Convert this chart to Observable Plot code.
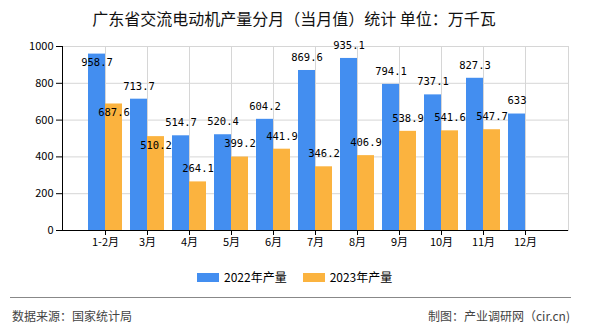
<!DOCTYPE html>
<html><head><meta charset="utf-8">
<script src="https://cdn.jsdelivr.net/npm/d3@7"></script>
<script src="https://cdn.jsdelivr.net/npm/@observablehq/plot@0.6"></script>
<style>
body{margin:0;background:#fff;font-family:"Noto Sans CJK SC","Noto Sans",sans-serif;}
#wrap{position:relative;width:590px;height:330px;overflow:hidden;background:#fff;}
#title{position:absolute;left:0;width:588px;top:8px;text-align:center;font-size:16px;line-height:20px;color:#111;letter-spacing:0;white-space:nowrap;}
#chart{position:absolute;left:0;top:37px;}
#legend{position:absolute;left:197px;top:270px;display:flex;align-items:center;font-size:12px;line-height:14px;color:#000;}
#legend .sw{width:22px;height:9px;margin-right:5px;}
#legend .item{display:flex;align-items:center;margin-right:16px;}
#sep{position:absolute;left:10px;top:297px;width:561px;height:1px;background:#888;}
#src{position:absolute;left:12px;top:308px;font-size:12px;line-height:16px;color:#444;}
#by{position:absolute;right:20px;top:308px;font-size:12px;line-height:16px;color:#444;}
</style></head>
<body>
<div id="wrap">
  <div id="title">广东省交流电动机产量分月（当月值）统计 单位：万千瓦</div>
  <div id="chart"></div>
  <div id="legend"></div>
  <div id="sep"></div>
  <div id="src">数据来源：国家统计局</div>
  <div id="by">制图：产业调研网（cir.cn)</div>
</div>
<script>
const months = ["1-2月","3月","4月","5月","6月","7月","8月","9月","10月","11月","12月"];
const v2022 = [958.7,713.7,514.7,520.4,604.2,869.6,935.1,794.1,737.1,827.3,633];
const v2023 = [687.6,510.2,264.1,399.2,441.9,346.2,406.9,538.9,541.6,547.7,null];
const seriesNames = ["2022年产量","2023年产量"];
const seriesColors = ["#438ef0","#fbb33f"];
const yTicks = [0,200,400,600,800,1000];

const rows = [];
months.forEach((m,i)=>{
  rows.push({month:m, s:0, value:v2022[i]});
  if (v2023[i] != null) rows.push({month:m, s:1, value:v2023[i]});
});

const W = 590, H = 219;
const base = {
  width: W, height: H,
  marginTop: 9, marginBottom: 26, marginLeft: 62, marginRight: 22,
  style: {fontFamily: '"Noto Sans CJK SC","Noto Sans",sans-serif', fontSize: "11px", color: "#000", background: "transparent"},
  x: {domain: months, paddingInner: 0.2, paddingOuter: 0.6, label: null, tickSize: 5, tickPadding: 3},
  y: {domain: [0,1000], ticks: yTicks, tickFormat: d => String(d), label: null, tickSize: 6, tickPadding: 3}
};
const probe = Plot.plot({...base, marks: [Plot.barY(rows, {x: "month", y: "value"})]});
const xs = probe.scale("x"), ys = probe.scale("y");
const bw = xs.bandwidth;
const bandX = d3.scaleBand(xs.domain, xs.range).paddingInner(0.2).paddingOuter(0.6);
const linY = d3.scaleLinear(ys.domain, ys.range);

// label placement: above bar, unless clipped or overlapping a neighbour label
const charW = 6.3, halfH = 5, above = -13, inside = 9;
const labels = rows.map(r => {
  const t = String(r.value);
  const cx = bandX(r.month) + bw/2 + (r.s === 0 ? -bw/4 : bw/4);
  const top = linY(r.value);
  return {r, t, cx, top, w: t.length*charW, pos: "above"};
});
labels.forEach(L => { if (L.top + above - halfH < 0) L.pos = "inside"; });
const cy = L => L.top + (L.pos === "above" ? above : inside);
labels.filter(L => L.r.s === 1).forEach(O => {
  labels.filter(L => L.r.s === 0).forEach(B => {
    if (Math.abs(O.cx - B.cx) < (O.w + B.w)/2 && Math.abs(cy(O) - cy(B)) < 2*halfH) O.pos = "inside";
  });
});
const posOf = new Map(labels.map(L => [L.r, L.pos]));

const hasNew = typeof Plot.axisY === "function";
const grid = "#d6d6d6";
const textOpts = (s, pos) => ({
  filter: d => d.s === s && posOf.get(d) === pos,
  x: "month", y: "value", text: d => String(d.value),
  dx: s === 0 ? -bw/4 : bw/4, dy: pos === "above" ? above : inside,
  fontFamily: '"DejaVu Sans Mono",monospace', fontSize: 10.5, fill: "#000"
});

const marks = [];
if (hasNew) marks.push(Plot.frame({stroke: grid}));
marks.push(Plot.ruleY(yTicks, {stroke: grid}));
marks.push(Plot.ruleX(months, {stroke: grid}));
marks.push(Plot.barY(rows, {filter: d => d.s === 0, x: "month", y: "value", fill: seriesColors[0], insetRight: bw/2}));
marks.push(Plot.barY(rows, {filter: d => d.s === 1, x: "month", y: "value", fill: seriesColors[1], insetLeft: bw/2}));
marks.push(Plot.ruleY([0], {stroke: "#000"}));
if (hasNew) marks.push(Plot.frame({anchor: "left", stroke: "#000"}));
for (const s of [0,1]) for (const p of ["above","inside"]) marks.push(Plot.text(rows, textOpts(s, p)));

const opts = {...base, marks};
if (!hasNew) opts.y = {...base.y, line: true};
const chart = Plot.plot(opts);
document.getElementById("chart").appendChild(chart);

const lg = document.getElementById("legend");
seriesNames.forEach((n,i)=>{
  const it = document.createElement("div"); it.className = "item";
  const sw = document.createElement("div"); sw.className = "sw"; sw.style.background = seriesColors[i];
  const tx = document.createElement("span"); tx.textContent = n;
  it.appendChild(sw); it.appendChild(tx); lg.appendChild(it);
});
</script>
</body></html>
